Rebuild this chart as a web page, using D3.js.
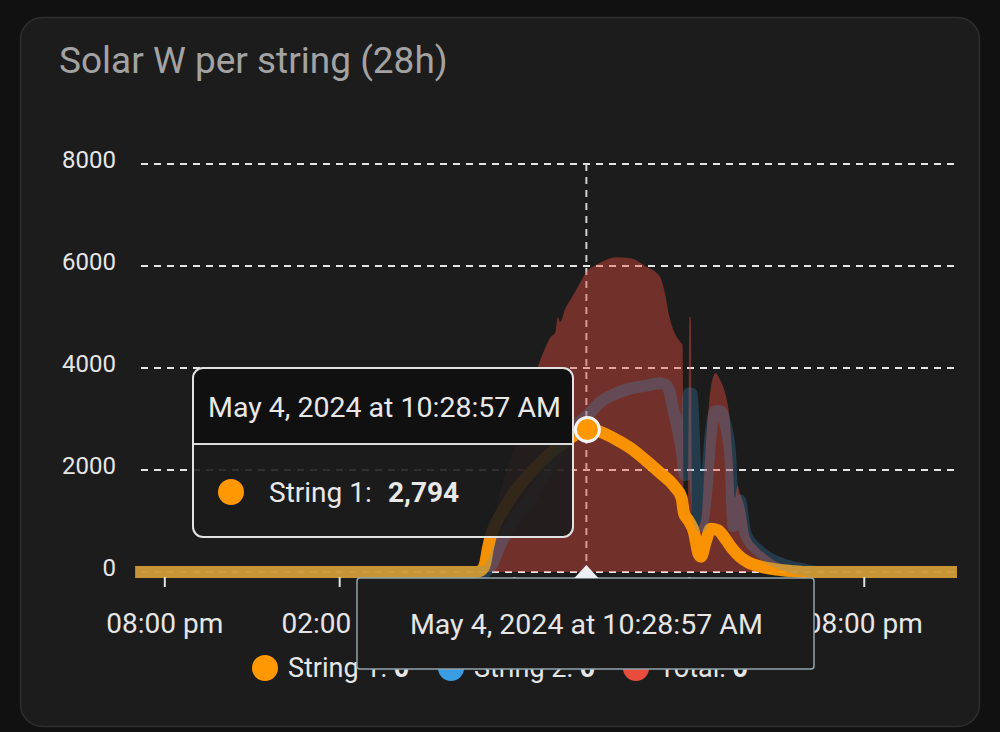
<!DOCTYPE html>
<html>
<head>
<meta charset="utf-8">
<script src="https://cdnjs.cloudflare.com/ajax/libs/d3/7.8.5/d3.min.js"></script>
<style>
  body { margin: 0; background: #111111; }
  svg { display: block; font-family: Roboto, "Noto Sans", sans-serif; }
</style>
</head>
<body>
<div id="chart"></div>
<script>

// ---- data ----
var s1Times = ["2024-05-03 19:00:00","2024-05-04 06:40:00","2024-05-04 06:52:00","2024-05-04 07:00:00","2024-05-04 07:06:00",
  "2024-05-04 07:12:00","2024-05-04 07:20:00","2024-05-04 07:40:00","2024-05-04 08:00:00","2024-05-04 08:30:00",
  "2024-05-04 09:00:00","2024-05-04 09:30:00","2024-05-04 10:00:00","2024-05-04 10:28:57","2024-05-04 10:45:00",
  "2024-05-04 11:00:00","2024-05-04 11:30:00","2024-05-04 12:00:00","2024-05-04 12:30:00","2024-05-04 13:00:00",
  "2024-05-04 13:30:00","2024-05-04 13:45:00","2024-05-04 13:50:00","2024-05-04 14:00:00","2024-05-04 14:10:00",
  "2024-05-04 14:20:00","2024-05-04 14:25:00","2024-05-04 14:35:00","2024-05-04 14:45:00","2024-05-04 15:00:00",
  "2024-05-04 15:15:00","2024-05-04 15:30:00","2024-05-04 15:45:00","2024-05-04 16:00:00","2024-05-04 16:30:00",
  "2024-05-04 17:00:00","2024-05-04 17:30:00","2024-05-04 18:00:00","2024-05-04 23:12:00"];
var s1Values = [0,0,30,150,450, 700,900,1250,1550,1900, 2200,2450,2650,2794,2790, 2740,2600,2430,2200,1950,
  1680,1450,1150,1000,800, 350,300,600,850,820, 650,450,300,200,100, 50,20,0,0];

var s2Times = ["2024-05-03 19:00:00","2024-05-04 07:00:00","2024-05-04 07:15:00","2024-05-04 07:30:00","2024-05-04 08:00:00",
  "2024-05-04 08:30:00","2024-05-04 09:00:00","2024-05-04 09:30:00","2024-05-04 10:00:00","2024-05-04 10:28:57",
  "2024-05-04 11:00:00","2024-05-04 11:30:00","2024-05-04 12:00:00","2024-05-04 12:30:00","2024-05-04 13:00:00",
  "2024-05-04 13:15:00","2024-05-04 13:30:00","2024-05-04 13:45:00","2024-05-04 13:52:00","2024-05-04 14:00:00",
  "2024-05-04 14:05:00","2024-05-04 14:15:00","2024-05-04 14:25:00","2024-05-04 14:35:00","2024-05-04 14:45:00",
  "2024-05-04 14:55:00","2024-05-04 15:05:00","2024-05-04 15:15:00","2024-05-04 15:25:00","2024-05-04 15:32:00",
  "2024-05-04 15:40:00","2024-05-04 15:45:00","2024-05-04 15:55:00","2024-05-04 16:05:00","2024-05-04 16:20:00",
  "2024-05-04 16:40:00","2024-05-04 17:00:00","2024-05-04 17:30:00","2024-05-04 18:00:00","2024-05-04 18:30:00",
  "2024-05-04 23:12:00"];
var s2Values = [0,0,150,500,1000, 1400,1850,2350,2800,3050, 3350,3500,3600,3650,3700, 3650,3100,2400,1900,3500,
  3500,1600,900,1500,2700, 3150,3150,2900,2300,900, 1200,1400,800,600,450, 300,200,100,40,0, 0];

var totalTimes = ["2024-05-03 19:12:00","2024-05-04 06:50:00","2024-05-04 07:00:00","2024-05-04 07:10:00","2024-05-04 07:20:00",
  "2024-05-04 07:30:00","2024-05-04 07:45:00","2024-05-04 08:00:00","2024-05-04 08:15:00","2024-05-04 08:30:00",
  "2024-05-04 08:45:00","2024-05-04 09:00:00","2024-05-04 09:15:00","2024-05-04 09:25:00","2024-05-04 09:30:00",
  "2024-05-04 09:35:00","2024-05-04 09:45:00","2024-05-04 10:00:00","2024-05-04 10:15:00","2024-05-04 10:30:00",
  "2024-05-04 10:45:00","2024-05-04 11:00:00","2024-05-04 11:30:00","2024-05-04 12:00:00","2024-05-04 12:30:00",
  "2024-05-04 13:00:00","2024-05-04 13:10:00","2024-05-04 13:20:00","2024-05-04 13:30:00","2024-05-04 13:43:00",
  "2024-05-04 13:47:00","2024-05-04 13:50:00","2024-05-04 13:58:00","2024-05-04 14:01:00","2024-05-04 14:04:00",
  "2024-05-04 14:07:00","2024-05-04 14:20:00","2024-05-04 14:25:00","2024-05-04 14:35:00","2024-05-04 14:45:00",
  "2024-05-04 14:55:00","2024-05-04 15:05:00","2024-05-04 15:15:00","2024-05-04 15:25:00","2024-05-04 15:30:00",
  "2024-05-04 15:35:00","2024-05-04 15:40:00","2024-05-04 15:45:00","2024-05-04 15:55:00","2024-05-04 16:05:00",
  "2024-05-04 16:20:00","2024-05-04 16:40:00","2024-05-04 17:00:00","2024-05-04 17:30:00","2024-05-04 18:00:00",
  "2024-05-04 18:30:00","2024-05-04 23:12:00"];
var totalValues = [0,0,100,500,1000, 1500,2000,2400,2700,3300, 3900,4300,4600,4700,5000, 4900,5150,5400,5650,5900,
  6000,6080,6170,6150,6000, 5800,5500,5000,4700,4500, 4450,1100,1100,5000,5000, 900,900,1000,2500,3600,
  3900,3750,3500,2900,2200, 1450,1700,1550,1250,700, 500,330,200,100,30, 0,0];

var seriesNames = ["String 1", "String 2", "Total"];
var legendValues = [0, 0, 0];
var yTicks = [0, 2000, 4000, 6000, 8000];
var xTickTimes = ["2024-05-03 20:00:00","2024-05-04 02:00:00","2024-05-04 08:00:00","2024-05-04 14:00:00","2024-05-04 20:00:00"];
var xDomain = ["2024-05-03 19:12:00", "2024-05-04 23:12:00"];
var hoverTime = "2024-05-04 10:28:57";
var hoverValue = 2794;
var hoverLabel = "May 4, 2024 at 10:28:57 AM";


SolarChart = function(_parentElement) {
    this.parentElement = _parentElement;
    this.initVis();
}

SolarChart.prototype.initVis = function() {
    var vis = this;
    var parse = d3.timeParse("%Y-%m-%d %H:%M:%S");

    vis.width = 1000;
    vis.height = 732;
    vis.colors = ["#ff9800", "#3a9de3", "#e74c3c"];

    vis.svg = d3.select('#' + vis.parentElement)
        .append('svg')
        .attr('width', vis.width)
        .attr('height', vis.height);

    // card
    vis.svg.append('rect')
        .attr('x', 20.5).attr('y', 17.5)
        .attr('width', 959).attr('height', 709)
        .attr('rx', 22)
        .attr('fill', '#1c1c1c')
        .attr('stroke', '#2f2f2f')
        .attr('stroke-width', 1.5);

    vis.svg.append('text')
        .attr('x', 59).attr('y', 73)
        .attr('font-size', 37)
        .attr('fill', '#a3a3a3')
        .text('Solar W per string (28h)');

    vis.x = d3.scaleTime()
        .domain(xDomain.map(parse))
        .range([141, 957]);
    vis.y = d3.scaleLinear()
        .domain([0, 8000])
        .range([572, 164]);

    // grid
    vis.svg.append('g').selectAll('line')
        .data(yTicks)
        .enter().append('line')
        .attr('x1', 141).attr('x2', 957)
        .attr('y1', function(d) { return vis.y(d); })
        .attr('y2', function(d) { return vis.y(d); })
        .attr('stroke', '#e4e4e4')
        .attr('stroke-width', 2)
        .attr('stroke-dasharray', '7,6');

    // crosshair
    var hx = vis.x(parse(hoverTime));
    vis.svg.append('line')
        .attr('x1', hx).attr('x2', hx)
        .attr('y1', vis.y(8000)).attr('y2', vis.y(0))
        .attr('stroke', '#d0d0d0')
        .attr('stroke-width', 2)
        .attr('stroke-dasharray', '7,6');

    function pts(times, vals) {
        return times.map(function(t, i) { return {t: parse(t), v: vals[i]}; });
    }

    // total area
    var area = d3.area()
        .x(function(d) { return vis.x(d.t); })
        .y0(vis.y(0))
        .y1(function(d) { return vis.y(d.v); })
        .curve(d3.curveMonotoneX);
    vis.svg.append('path')
        .attr('d', area(pts(totalTimes, totalValues)))
        .attr('fill', vis.colors[2])
        .attr('fill-opacity', 0.42);

    var line = d3.line()
        .x(function(d) { return vis.x(d.t); })
        .y(function(d) { return vis.y(d.v); })
        .curve(d3.curveMonotoneX);

    vis.svg.append('path')
        .attr('d', line(pts(s1Times, s1Values)))
        .attr('fill', 'none')
        .attr('stroke', vis.colors[0])
        .attr('stroke-opacity', 0.95)
        .attr('stroke-width', 12)
        .attr('stroke-linejoin', 'round');

    // string 2 sits dimmed on top of string 1
    vis.svg.append('path')
        .attr('d', line(pts(s2Times, s2Values)))
        .attr('fill', 'none')
        .attr('stroke', vis.colors[1])
        .attr('stroke-opacity', 0.24)
        .attr('stroke-width', 12)
        .attr('stroke-linejoin', 'round');

    // axes
    var xAxis = d3.axisBottom(vis.x)
        .tickValues(xTickTimes.map(parse))
        .tickFormat(function(d) { return d3.timeFormat("%I:%M %p")(d).toLowerCase(); })
        .tickSizeInner(10).tickSizeOuter(0).tickPadding(26);
    var gx = vis.svg.append('g')
        .attr('transform', 'translate(0,577)')
        .call(xAxis);
    gx.select('.domain').remove();
    gx.selectAll('line').attr('stroke', '#e0e0e0').attr('stroke-width', 2);
    gx.selectAll('text').attr('font-size', 28).attr('fill', '#e6e6e6').attr('font-family', 'Roboto')
        // labels that sit fully under the x tooltip are not seen
        .attr('visibility', function(d) {
            var px = vis.x(d);
            return (px > 420 && px < 750) ? 'hidden' : null;
        });

    var yAxis = d3.axisLeft(vis.y)
        .tickValues(yTicks)
        .tickFormat(d3.format('d'))
        .tickSize(0).tickPadding(25);
    var gy = vis.svg.append('g')
        .attr('transform', 'translate(141,-4)')
        .call(yAxis);
    gy.select('.domain').remove();
    gy.selectAll('text').attr('font-size', 24).attr('fill', '#e6e6e6').attr('font-family', 'Roboto');

    // hover marker
    vis.svg.append('circle')
        .attr('cx', hx + 1).attr('cy', vis.y(hoverValue))
        .attr('r', 12)
        .attr('fill', vis.colors[0])
        .attr('stroke', '#f4f4f4')
        .attr('stroke-width', 3);

    // legend
    var legendX = [265, 451, 636];
    var lg = vis.svg.append('g').selectAll('g')
        .data(seriesNames)
        .enter().append('g')
        .attr('transform', function(d, i) { return 'translate(' + legendX[i] + ',668)'; });
    lg.append('circle')
        .attr('r', 13)
        .attr('fill', function(d, i) { return vis.colors[i]; });
    var lt = lg.append('text')
        .attr('x', 23).attr('y', 9)
        .attr('font-size', 27)
        .attr('fill', '#e6e6e6');
    lt.append('tspan').text(function(d) { return d + ': '; });
    lt.append('tspan').attr('font-weight', 'bold').text(function(d, i) { return legendValues[i]; });

    // x tooltip
    vis.svg.append('rect')
        .attr('x', 357).attr('y', 578)
        .attr('width', 457).attr('height', 91)
        .attr('rx', 3)
        .attr('fill', '#1b1b1b')
        .attr('stroke', '#93a5ad')
        .attr('stroke-width', 1.5);
    vis.svg.append('path')
        .attr('d', 'M' + (hx - 12) + ',578 L' + hx + ',565 L' + (hx + 12) + ',578 Z')
        .attr('fill', '#eceff1');
    vis.svg.append('text')
        .attr('x', hx).attr('y', 634)
        .attr('text-anchor', 'middle')
        .attr('font-size', 28.5)
        .attr('fill', '#e6e6e6')
        .text(hoverLabel);

    // main tooltip
    var tt = vis.svg.append('g').attr('transform', 'translate(193,368)');
    tt.append('rect')
        .attr('width', 380).attr('height', 169)
        .attr('rx', 10)
        .attr('fill', '#1c1c1c')
        .attr('fill-opacity', 0.9);
    tt.append('path')
        .attr('d', 'M0,76 L0,10 Q0,0 10,0 L370,0 Q380,0 380,10 L380,76 Z')
        .attr('fill', '#101010');
    tt.append('line')
        .attr('x1', 0).attr('x2', 380)
        .attr('y1', 76).attr('y2', 76)
        .attr('stroke', '#dcdcdc').attr('stroke-width', 2);
    tt.append('rect')
        .attr('width', 380).attr('height', 169)
        .attr('rx', 10)
        .attr('fill', 'none')
        .attr('stroke', '#e2e2e2')
        .attr('stroke-width', 2);
    tt.append('text')
        .attr('x', 15).attr('y', 49)
        .attr('font-size', 28.5)
        .attr('fill', '#e8e8e8')
        .text(hoverLabel);
    tt.append('circle')
        .attr('cx', 38).attr('cy', 124)
        .attr('r', 13)
        .attr('fill', vis.colors[0]);
    var bt = tt.append('text')
        .attr('x', 76).attr('y', 134)
        .attr('font-size', 28)
        .attr('fill', '#e8e8e8');
    bt.append('tspan').text('String 1:');
    bt.append('tspan').attr('x', 195).attr('font-weight', 'bold').text(d3.format(',')(hoverValue));
};

new SolarChart('chart');
</script>
</body>
</html>
